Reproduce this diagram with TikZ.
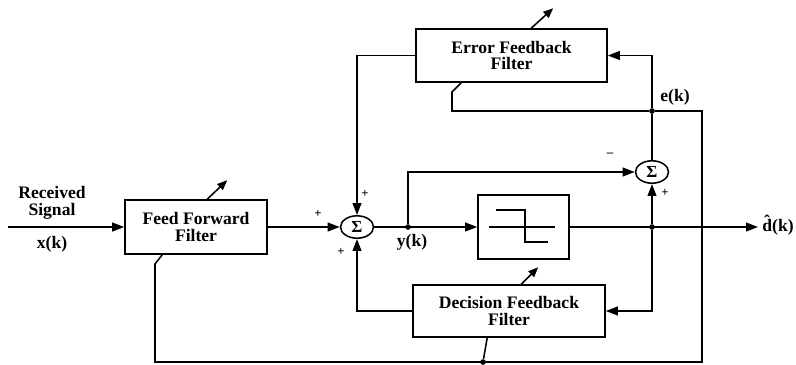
\documentclass[tikz,border=0pt]{standalone}
\usepackage{fontspec}
\setmainfont{Liberation Serif}
\usetikzlibrary{arrows.meta,shapes.geometric,calc}

\tikzset{
  block/.style={draw, line width=1.1pt, rectangle, inner sep=0pt, align=center,
    font=\fontsize{12.5}{12}\selectfont\bfseries},
  sumnode/.style={draw, line width=1.1pt, ellipse, inner sep=0pt,
    minimum width=0.825cm, minimum height=0.56cm, font=\fontsize{12}{12}\selectfont\bfseries},
  wire/.style={line width=1.1pt},
  sig/.style={wire, -{Triangle[length=0.3cm,width=0.22cm]}},
  adapt/.style={wire, -{Triangle[length=0.25cm,width=0.2cm]}},
  junc/.style={circle, fill, inner sep=0pt, minimum size=4pt},
  lbl/.style={font=\fontsize{12.5}{12}\selectfont\bfseries, align=center},
  sgn/.style={font=\fontsize{9}{9}\selectfont\bfseries, inner sep=0pt}
}

\begin{document}
\begin{tikzpicture}[x=0.025cm, y=-0.025cm]
    \useasboundingbox (0,0) rectangle (796,364);

    % Blocks
    \node[block, minimum width=3.55cm, minimum height=1.35cm] (ff) at (196,227) {Feed Forward\\Filter};
    \node[block, minimum width=4.775cm, minimum height=1.325cm] (ef) at (511.5,55.5) {Error Feedback\\Filter};
    \node[block, minimum width=4.8cm, minimum height=1.3cm] (df) at (509,311) {Decision Feedback\\Filter};
    \node[block, minimum width=2.275cm, minimum height=1.6cm] (quant) at (523.5,227) {\phantom{x}};
    \node[sumnode] (sum1) at (357,227) {Σ};
    \node[sumnode] (sum2) at (652,172) {Σ};

    % Quantizer symbol
    \draw[line width=1pt] (489,227) -- (555,227);
    \draw[line width=1pt] (496,210) -- (525,210) -- (525,242) -- (548,242);

    % Junctions and corners
    \coordinate (in) at (8,227);
    \coordinate (out) at (758,227);
    \node[junc] (yk) at (408,227) {};
    \node[junc] (dk) at (652,227) {};
    \node[junc] (ek) at (652,111) {};
    \node[junc] (dfjoin) at (483,362) {};
    \coordinate (ecorner) at (702,111);
    \coordinate (bcorner) at (702,362);
    \coordinate (ffcorner) at (155,362);
    \coordinate (efcorner) at (452,111);

    % Forward path
    \draw[sig] (in) -- (ff);
    \draw[sig] (ff) -- (sum1);
    \draw[sig] (sum1) -- (quant);
    \draw[sig] (quant) -- (out);

    % Error path
    \draw[sig] (yk) |- (sum2);
    \draw[sig] (dk) -- (sum2);
    \draw[wire] (sum2) -- (ek);
    \draw[sig] (ek) |- (ef);

    % Feedback filters into first sum
    \draw[sig] (ef) -| (sum1);
    \draw[sig] (dk) |- (df);
    \draw[sig] (df) -| (sum1);

    % Error to all filter adaptation inputs
    \draw[wire] (ek) -- (ecorner) -- (bcorner) -- (ffcorner) -- (155,264) -- ($(ff.south west)+(38,0)$);
    \draw[wire] (ek) -- (efcorner) -- (452,92) -- ($(ef.south west)+(46,0)$);
    \draw[wire] (dfjoin) -- ($(df.south west)+(75,0)$);

    % Adaptation arrows
    \draw[adapt] ($(ff.north west)+(83,0)$) -- ++(20,-19);
    \draw[adapt] ($(ef.north west)+(116,0)$) -- ++(22,-20);
    \draw[adapt] ($(df.north west)+(109,0)$) -- ++(17,-17);

    % Labels
    \node[lbl] (rx) at (52,203) {Received\\Signal};
    \node[lbl] (xk) at (52,244) {x(k)};
    \node[lbl] (yklbl) at (412,242) {y(k)};
    \node[lbl] (eklbl) at (675,97) {e(k)};
    \node[lbl, inner sep=1pt] (dklbl) at (778,225) {\^{d}(k)};

    % Signs
    \node[sgn] (s1a) at (318,214) {+};
    \node[sgn] (s1b) at (365,194) {+};
    \node[sgn] (s1c) at (341,252) {+};
    \node[sgn] (s2a) at (610,155) {--};
    \node[sgn] (s2b) at (665,193) {+};

\end{tikzpicture}
\end{document}
